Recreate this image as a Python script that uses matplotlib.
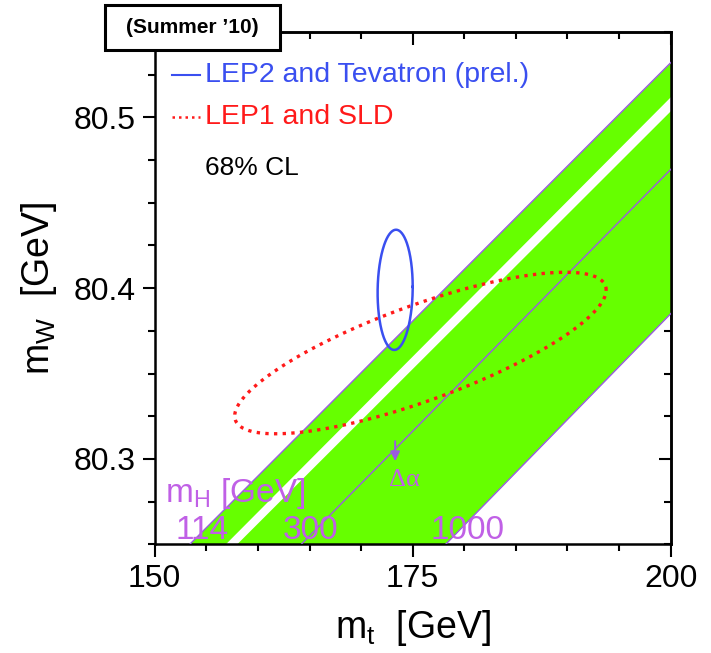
"""
mW vs mt plane: SM band (mH 114..1000 GeV) against direct and indirect 68% CL contours
"""

import numpy as np
import matplotlib
matplotlib.use("Agg")
import matplotlib.pyplot as plt
from matplotlib.patches import Rectangle
from matplotlib.ticker import MultipleLocator, FixedLocator

plt.rcParams['font.family'] = ['Liberation Sans', 'DejaVu Sans']

XMIN, XMAX = 150.0, 200.0
YMIN, YMAX = 80.25, 80.55

# SM lines, each read as (mt where mW = 80.25, mW where mt = 200)
band_upper = (153.4, 80.532)    # mH = 114
band_lower = (178.2, 80.385)    # mH = 1000
excl_upper = (156.9, 80.5117)   # Tevatron excluded mH (white stripe)
excl_lower = (158.0, 80.5035)
line_300 = (164.2, 80.4695)     # mH = 300

mh_labels = ["114", "300", "1000"]
mh_label_mt = [154.6, 165.1, 180.3]
mh_label_mw = 80.258

# 68% CL contours: centre, half-extent in mt and mW, correlation
lep2_centre = (173.3, 80.399)
lep2_size = (1.7, 0.0352)
lep2_rho = 0.05

lep1_centre = (175.75, 80.362)
lep1_size = (18.0, 0.0473)
lep1_rho = 0.78

# delta alpha arrow (mt, mW from, mW to)
dalpha_mt = 173.3
dalpha_mw = (80.312, 80.297)

GREEN = "#66ff00"
PURPLE = "#9a5ce0"
PURPLE_TXT = "#c060e6"
BLUE = "#3a4ff0"
RED = "#ff1a1a"


def sm_line(edge, mt):
    slope = (edge[1] - YMIN) / (XMAX - edge[0])
    return YMIN + slope * (mt - edge[0])


def contour(centre, size, rho, n=300):
    t = np.linspace(0, 2 * np.pi, n)
    x = centre[0] + size[0] * np.cos(t)
    y = centre[1] + size[1] * (rho * np.cos(t) + np.sqrt(1 - rho ** 2) * np.sin(t))
    return x, y


fig = plt.figure(figsize=(7.11, 6.53), dpi=100)
ax = fig.add_axes([0.2176, 0.1665, 0.7257, 0.7845])

mt = np.array([140.0, 210.0])
ax.fill_between(mt, sm_line(band_lower, mt), sm_line(band_upper, mt),
                color=GREEN, lw=0, zorder=1)
ax.fill_between(mt, sm_line(excl_lower, mt), sm_line(excl_upper, mt),
                color="white", lw=0, zorder=2)
for edge in (band_upper, line_300, band_lower):
    ax.plot(mt, sm_line(edge, mt), color=PURPLE, lw=1.0, zorder=3)

x, y = contour(lep2_centre, lep2_size, lep2_rho)
ax.plot(x, y, color=BLUE, lw=1.8, zorder=5)
x, y = contour(lep1_centre, lep1_size, lep1_rho)
ax.plot(x, y, color=RED, lw=2.4, ls=(0, (1, 1.6)), zorder=4)

# labels for the SM band
for lab, xm in zip(mh_labels, mh_label_mt):
    ax.text(xm, mh_label_mw, lab, color=PURPLE_TXT, fontsize=24,
            ha="center", va="center", zorder=6)
ax.text(151.0, 80.2796, r"m$_\mathregular{H}$ [GeV]", color=PURPLE_TXT,
        fontsize=24, ha="left", va="center", zorder=6)
ax.annotate("", xy=(dalpha_mt, dalpha_mw[1]), xytext=(dalpha_mt, dalpha_mw[0]),
            arrowprops=dict(arrowstyle="-|>", color=PURPLE, lw=1.4,
                            mutation_scale=14), zorder=6)
ax.text(dalpha_mt + 0.9, 80.2875, "Δα", color=PURPLE_TXT, fontsize=19,
        family=["Liberation Serif", "DejaVu Serif"], ha="center", va="center",
        zorder=6)

# legend drawn by hand
ax.plot([0.0335, 0.088], [0.916, 0.916], color=BLUE, lw=1.5,
        transform=ax.transAxes)
ax.plot([0.0335, 0.088], [0.834, 0.834], color=RED, lw=1.8, ls=(0, (1, 1.6)),
        transform=ax.transAxes)
ax.text(0.0975, 0.916, "LEP2 and Tevatron (prel.)", color=BLUE, fontsize=20.5,
        transform=ax.transAxes, va="center")
ax.text(0.0975, 0.834, "LEP1 and SLD", color=RED, fontsize=20.5,
        transform=ax.transAxes, va="center")
ax.text(0.0975, 0.735, "68% CL", color="black", fontsize=19,
        transform=ax.transAxes, va="center")

ax.set_xlim(XMIN, XMAX)
ax.set_ylim(YMIN, YMAX)
ax.set_xticks([150, 175, 200])
ax.set_yticks([80.3, 80.4, 80.5])
ax.set_yticklabels(["80.3", "80.4", "80.5"])
ax.xaxis.set_minor_locator(MultipleLocator(5))
ax.yaxis.set_minor_locator(MultipleLocator(0.025))
ax.tick_params(which="both", direction="out", width=1.5, labelsize=23,
               top=False, right=False)
ax.tick_params(which="major", length=9, pad=5)
ax.tick_params(which="minor", length=5)
for s in ax.spines.values():
    s.set_linewidth(1.8)

top = ax.secondary_xaxis("top")
top.xaxis.set_major_locator(FixedLocator([150, 175, 200]))
top.xaxis.set_minor_locator(MultipleLocator(5))
top.tick_params(which="both", direction="in", width=1.5, labeltop=False)
top.tick_params(which="major", length=9)
top.tick_params(which="minor", length=5)
top.spines["top"].set_linewidth(1.8)

right = ax.secondary_yaxis("right")
right.yaxis.set_major_locator(FixedLocator([80.3, 80.4, 80.5]))
right.yaxis.set_minor_locator(MultipleLocator(0.025))
right.tick_params(which="both", direction="in", width=1.5, labelright=False)
right.tick_params(which="major", length=9)
right.tick_params(which="minor", length=5)
right.spines["right"].set_linewidth(1.8)

ax.set_xlabel(r"m$_\mathregular{t}$  [GeV]", fontsize=27, labelpad=10)
ax.set_ylabel(r"m$_\mathregular{W}$  [GeV]", fontsize=27, labelpad=10)

# "(Summer '10)" box over the top-left corner
fig.add_artist(Rectangle((0.1477, 0.9234), 0.246, 0.0689, transform=fig.transFigure,
                         fc="white", ec="black", lw=2.2, zorder=10))
fig.text(0.2707, 0.9579, "(Summer \u201910)", fontsize=15, fontweight="bold",
         ha="center", va="center", zorder=11)

fig.savefig("out.png", dpi=100)
